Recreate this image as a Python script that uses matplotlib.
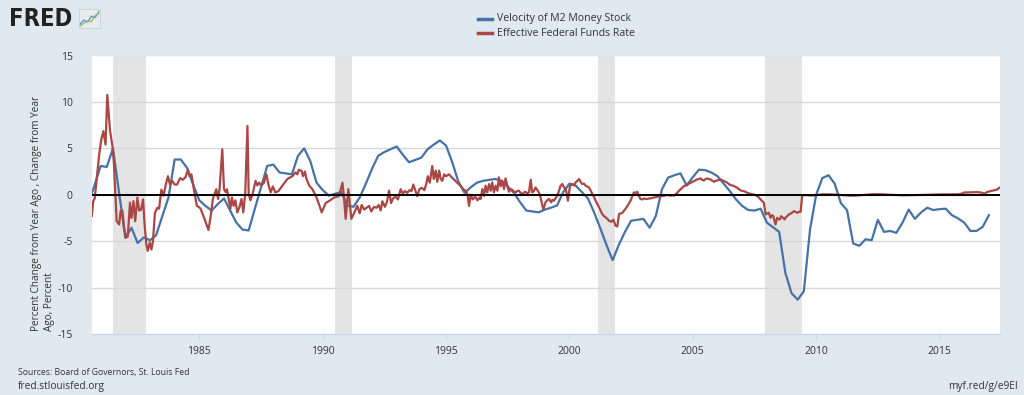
import numpy as np
import matplotlib
matplotlib.use("Agg")
import matplotlib.pyplot as plt
from matplotlib.lines import Line2D

# ---------------- data ----------------
recession_starts = [1981.50, 1990.50, 2001.17, 2007.92]
recession_ends = [1982.83, 1991.17, 2001.83, 2009.42]

# Velocity of M2 Money Stock, percent change from year ago (quarterly, 1980Q3 - 2017Q1)
velocity_values = [
    -1.0, 1.0,
    3.1, 3.0, 5.0, 0.2,
    -4.65, -3.55, -5.2, -4.6,
    -4.9, -4.35, -2.3, -0.3,
    3.8, 3.8, 2.9, 1.1,
    -0.6, -1.2, -1.7, -1.0,
    -0.4, -1.7, -3.0, -3.75,
    -3.85, -1.5, 0.8, 3.1,
    3.25, 2.4, 2.3, 2.2,
    4.2, 5.0, 3.6, 1.3,
    0.5, -0.1, 0.1, 0.3,
    -1.15, -1.3, -0.3, 1.2,
    2.8, 4.2, 4.6, 4.9,
    5.2, 4.3, 3.5, 3.75,
    4.0, 4.9, 5.4, 5.85,
    5.3, 3.5, 1.4, 0.2,
    0.8, 1.3, 1.5, 1.6,
    1.7, 1.5, 0.9, 0.2,
    -0.8, -1.7, -1.8, -1.9,
    -1.6, -1.4, -1.15, 0.3,
    1.2, 1.0, 0.3, -0.4,
    -1.9, -3.6, -5.4, -7.05,
    -5.4, -4.0, -2.8, -2.7,
    -2.6, -3.55, -2.3, 0.6,
    1.85, 2.1, 2.3, 1.0,
    1.9, 2.7, 2.65, 2.4,
    2.0, 1.2, 0.4, -0.5,
    -1.2, -1.65, -1.7, -1.5,
    -3.0, -3.5, -4.0, -8.4,
    -10.6, -11.3, -10.4, -3.75,
    0.0, 1.8, 2.1, 1.2,
    -0.9, -1.65, -5.25, -5.5,
    -4.8, -4.9, -2.7, -4.0,
    -3.9, -4.1, -3.0, -1.6,
    -2.6, -1.9, -1.4, -1.65,
    -1.55, -1.5, -2.2, -2.55,
    -3.0, -3.9, -3.9, -3.45,
    -2.2,
]
velocity_years = np.arange(len(velocity_values)) * 0.25 + 1980.5

# Effective Federal Funds Rate, change from year ago, percent (readings)
fedfunds_years = [
    1980.64, 1980.70, 1980.76, 1980.85, 1980.94, 1981.03, 1981.11, 1981.20, 1981.27, 1981.38,
    1981.48, 1981.54, 1981.65, 1981.75, 1981.81, 1981.88, 1981.95, 1982.03, 1982.10, 1982.19,
    1982.25, 1982.33, 1982.40, 1982.49, 1982.56, 1982.64, 1982.72, 1982.78, 1982.85, 1982.91,
    1982.99, 1983.06, 1983.12, 1983.20, 1983.30, 1983.37, 1983.46, 1983.55, 1983.64, 1983.73,
    1983.81, 1983.90, 1984.00, 1984.10, 1984.22, 1984.33, 1984.44, 1984.54, 1984.60, 1984.68,
    1984.79, 1984.90, 1984.97, 1985.05, 1985.19, 1985.37, 1985.46, 1985.55, 1985.62, 1985.69,
    1985.76, 1985.82, 1985.93, 1986.00, 1986.06, 1986.12, 1986.19, 1986.26, 1986.32, 1986.39,
    1986.46, 1986.54, 1986.63, 1986.71, 1986.78, 1986.86, 1986.95, 1987.00, 1987.07, 1987.16,
    1987.28, 1987.35, 1987.42, 1987.51, 1987.62, 1987.72, 1987.80, 1987.89, 1987.98, 1988.08,
    1988.21, 1988.37, 1988.57, 1988.77, 1988.90, 1988.97, 1989.04, 1989.15, 1989.20, 1989.28,
    1989.33, 1989.45, 1989.58, 1989.72, 1989.82, 1989.96, 1990.12, 1990.30, 1990.46, 1990.66,
    1990.80, 1990.86, 1990.93, 1991.04, 1991.16, 1991.27, 1991.40, 1991.50, 1991.58, 1991.68,
    1991.78, 1991.88, 1991.97, 1992.08, 1992.18, 1992.27, 1992.35, 1992.42, 1992.52, 1992.60,
    1992.69, 1992.77, 1992.85, 1992.95, 1993.05, 1993.16, 1993.25, 1993.33, 1993.42, 1993.52,
    1993.60, 1993.67, 1993.75, 1993.83, 1993.92, 1994.02, 1994.12, 1994.20, 1994.26, 1994.34,
    1994.44, 1994.50, 1994.58, 1994.64, 1994.72, 1994.78, 1994.85, 1994.92, 1995.00, 1995.12,
    1995.22, 1995.32, 1995.45, 1995.59, 1995.70, 1995.80, 1995.87, 1995.93, 1996.00, 1996.08,
    1996.18, 1996.27, 1996.36, 1996.40, 1996.47, 1996.54, 1996.60, 1996.67, 1996.74, 1996.81,
    1996.87, 1996.94, 1997.01, 1997.08, 1997.14, 1997.21, 1997.28, 1997.35, 1997.41, 1997.48,
    1997.55, 1997.62, 1997.68, 1997.75, 1997.82, 1997.88, 1997.95, 1998.02, 1998.09, 1998.16,
    1998.22, 1998.29, 1998.36, 1998.43, 1998.49, 1998.56, 1998.63, 1998.70, 1998.76, 1998.82,
    1998.86, 1998.94, 1999.03, 1999.10, 1999.17, 1999.26, 1999.31, 1999.37, 1999.44, 1999.51,
    1999.58, 1999.64, 1999.71, 1999.78, 1999.85, 1999.94, 2000.02, 2000.12, 2000.19, 2000.25,
    2000.32, 2000.39, 2000.45, 2000.52, 2000.59, 2000.66, 2000.72, 2000.79, 2000.86, 2000.93,
    2001.00, 2001.06, 2001.13, 2001.20, 2001.27, 2001.33, 2001.40, 2001.47, 2001.54, 2001.60,
    2001.70, 2001.78, 2001.87, 2001.94, 2002.01, 2002.08, 2002.14, 2002.21, 2002.28, 2002.34,
    2002.41, 2002.48, 2002.54, 2002.61, 2002.68, 2002.75, 2002.81, 2002.88, 2002.95, 2003.02,
    2003.09, 2003.16, 2003.22, 2003.29, 2003.36, 2003.43, 2003.50, 2003.56, 2003.63, 2003.70,
    2003.76, 2003.83, 2003.90, 2003.97, 2004.03, 2004.10, 2004.17, 2004.24, 2004.30, 2004.37,
    2004.43, 2004.50, 2004.57, 2004.64, 2004.70, 2004.77, 2004.84, 2004.91, 2004.97, 2005.04,
    2005.11, 2005.18, 2005.25, 2005.32, 2005.38, 2005.45, 2005.52, 2005.59, 2005.65, 2005.72,
    2005.79, 2005.86, 2005.92, 2005.99, 2006.06, 2006.13, 2006.19, 2006.26, 2006.33, 2006.40,
    2006.46, 2006.53, 2006.60, 2006.67, 2006.73, 2006.80, 2006.87, 2006.94, 2007.00, 2007.07,
    2007.14, 2007.21, 2007.27, 2007.34, 2007.41, 2007.48, 2007.55, 2007.61, 2007.68, 2007.75,
    2007.82, 2007.88, 2007.95, 2008.02, 2008.08, 2008.15, 2008.21, 2008.26, 2008.35, 2008.42,
    2008.47, 2008.53, 2008.58, 2008.62, 2008.67, 2008.72, 2008.78, 2008.83, 2008.90, 2008.96,
    2009.03, 2009.10, 2009.17, 2009.23, 2009.30, 2009.37, 2009.43, 2009.50, 2009.64, 2009.75,
    2010.00, 2010.25, 2010.50, 2010.75, 2011.00, 2011.25, 2011.50, 2011.75, 2012.00, 2012.25,
    2012.50, 2012.75, 2013.00, 2013.25, 2013.50, 2013.75, 2014.00, 2014.25, 2014.50, 2014.75,
    2015.00, 2015.25, 2015.50, 2015.75, 2015.92, 2016.00, 2016.17, 2016.33, 2016.50, 2016.67,
    2016.83, 2016.92, 2017.00, 2017.17, 2017.25, 2017.33, 2017.42, 2017.47,
]
fedfunds_values = [
    -2.3, -0.7, -0.4, 2.0, 4.3, 6.0, 6.85, 5.4, 10.75, 6.9,
    5.2, 3.3, -2.85, -3.2, -1.75, -1.7, -3.55, -4.6, -4.5, -0.85,
    -2.5, -0.7, -2.85, -0.3, -1.7, -1.6, -0.5, -3.15, -5.3, -6.05,
    -5.15, -5.9, -5.0, -1.95, -1.4, -1.5, 0.55, -0.1, 1.1, 2.0,
    1.1, 1.5, 1.1, 1.1, 1.8, 1.6, 1.9, 2.7, 2.0, 2.2,
    0.4, -1.2, -1.3, -1.5, -2.45, -3.8, -2.3, -0.45, 0.1, 0.6,
    -0.45, 0.6, 4.9, 0.6, 0.3, 0.6, -0.45, -1.5, -0.3, -1.2,
    -0.6, -1.9, -1.3, -0.45, -1.9, 0.1, 7.4, 0.1, -0.6, 0.1,
    1.5, 1.0, 1.3, 1.0, 1.3, 2.2, 1.1, 0.25, 0.9, 0.25,
    0.4, 1.0, 1.7, 2.0, 2.4, 2.2, 2.7, 2.55, 2.0, 2.5,
    1.8, 1.0, 0.6, -0.1, -0.8, -1.9, -0.9, -0.6, -0.3, -0.15,
    1.3, -0.2, -2.6, 0.6, -2.6, -2.0, -1.2, -2.0, -1.1, -1.6,
    -1.4, -1.2, -1.8, -1.3, -1.4, -1.1, -1.7, -0.7, -1.3, -0.8,
    0.45, -0.9, -0.4, -0.2, -0.5, 0.6, 0.1, 0.4, 0.2, 0.5,
    0.4, 1.1, 0.5, -0.15, 0.6, 0.75, 0.5, 1.2, 2.0, 1.3,
    3.1, 1.7, 2.6, 1.4, 2.6, 1.7, 1.5, 2.2, 2.0, 2.2,
    1.9, 1.65, 1.3, 0.95, 0.6, 0.4, 0.0, -1.2, 0.0, -0.5,
    -0.2, -0.6, -0.3, -0.46, 0.61, -0.11, 0.97, 0.25, 1.15, 0.43,
    1.33, 0.25, 0.97, 0.43, 1.87, 0.90, 1.51, 0.61, 1.76, 0.97,
    0.32, 0.60, 0.54, 0.35, 0.25, 0.40, 0.43, 0.20, 0.08, 0.25,
    0.32, 0.15, 0.25, 1.62, 0.25, 0.40, 0.79, 0.50, 0.25, -0.2,
    -0.64, -1.61, -0.82, -0.60, -0.46, -0.82, -0.55, -0.64, -0.35, -0.11,
    0.45, 0.97, 1.15, 0.80, 0.61, -0.64, 0.90, 1.15, 1.00, 1.33,
    1.50, 1.69, 1.40, 1.15, 1.20, 0.97, 0.90, 0.79, 0.45, 0.08,
    -0.25, -0.64, -1.0, -1.36, -1.75, -2.08, -2.3, -2.44, -2.6, -2.80,
    -2.91, -2.69, -3.34, -3.41, -2.08, -2.0, -1.97, -1.72, -1.5, -1.25,
    -0.95, -0.64, -0.2, 0.25, 0.2, 0.32, -0.1, -0.46, -0.5, -0.39,
    -0.45, -0.46, -0.40, -0.39, -0.35, -0.29, -0.25, -0.21, -0.18, -0.11,
    -0.15, -0.11, -0.05, -0.03, -0.05, -0.11, -0.05, -0.1, 0.05, 0.21,
    0.4, 0.57, 0.75, 0.93, 1.0, 1.04, 1.2, 1.29, 1.35, 1.47,
    1.55, 1.65, 1.7, 1.76, 1.6, 1.54, 1.7, 1.76, 1.7, 1.65,
    1.5, 1.40, 1.5, 1.54, 1.6, 1.65, 1.55, 1.47, 1.4, 1.29,
    1.15, 1.04, 1.0, 0.93, 0.85, 0.75, 0.6, 0.46, 0.42, 0.39,
    0.3, 0.21, 0.15, 0.10, 0.05, 0.03, -0.05, -0.15, -0.3, -0.51,
    -0.7, -0.87, -2.12, -2.0, -1.94, -2.48, -2.2, -2.30, -3.20, -2.48,
    -2.6, -2.66, -2.3, -2.41, -2.5, -2.66, -2.4, -2.30, -2.1, -2.05,
    -1.9, -1.76, -1.85, -1.94, -1.85, -1.83, -0.15, -0.04, -0.04, -0.08,
    -0.05, 0.05, 0.05, 0.02, -0.03, -0.08, -0.1, -0.06, 0.0, 0.05,
    0.06, 0.03, 0.0, -0.04, -0.06, -0.05, -0.04, -0.02, 0.0, 0.01,
    0.03, 0.04, 0.04, 0.05, 0.13, 0.25, 0.25, 0.27, 0.28, 0.25,
    0.12, 0.28, 0.35, 0.45, 0.5, 0.55, 0.75, 0.8,
]

x_ticks = [1985, 1990, 1995, 2000, 2005, 2010, 2015]
y_ticks = [-15, -10, -5, 0, 5, 10, 15]

series_names = ["Velocity of M2 Money Stock", "Effective Federal Funds Rate"]
y_label = "Percent Change from Year Ago , Change from Year\nAgo, Percent"

# ---------------- style ----------------
BG = "#e1e9f0"
BLUE = "#4572a7"
RED = "#aa4643"
TXT = "#333333"
FONT = ["Open Sans", "DejaVu Sans"]

plt.rcParams["font.family"] = FONT

fig = plt.figure(figsize=(10.24, 3.95), dpi=100, facecolor=BG)
ax = fig.add_axes([92 / 1024, 1 - 334 / 395, 908 / 1024, 278.5 / 395])
ax.set_facecolor("white")

for s, e in zip(recession_starts, recession_ends):
    ax.axvspan(s, e, color="#e4e4e4", lw=0, zorder=0.5)

for yv in y_ticks[1:]:
    ax.axhline(yv, color="#d8d8d8", lw=1.0, zorder=1)

ax.plot(velocity_years, velocity_values, color=BLUE, lw=1.6, zorder=3,
        solid_joinstyle="round")
ax.plot(fedfunds_years, fedfunds_values, color=RED, lw=1.6, zorder=3,
        solid_joinstyle="round")
ax.axhline(0, color="black", lw=1.4, zorder=5)

ax.set_xlim(1980.65, 2017.45)
ax.set_ylim(-15, 15)
ax.set_xticks(x_ticks)
ax.set_xticklabels([str(t) for t in x_ticks])
ax.set_yticks(y_ticks)
ax.set_yticklabels([str(t) for t in y_ticks])

for sp in ["top", "right", "left"]:
    ax.spines[sp].set_visible(False)
ax.spines["bottom"].set_color("#ccd6eb")
ax.spines["bottom"].set_linewidth(1.0)
ax.tick_params(axis="y", length=0, pad=14, labelsize=7.5, labelcolor=TXT)
ax.tick_params(axis="x", length=4, width=0.8, color="#ccd6eb", pad=5,
               labelsize=7.5, labelcolor=TXT)

# y label
fig.text(43 / 1024, 1 - 331 / 395, y_label, rotation=90, ha="center",
         va="bottom", multialignment="left", fontsize=7.2, color=TXT)

# legend
for i, (name, col) in enumerate(zip(series_names, [BLUE, RED])):
    yy = 1 - (19 + 14 * i) / 395
    fig.add_artist(Line2D([478 / 1024, 492 / 1024], [yy, yy], color=col,
                          lw=2.5, transform=fig.transFigure))
    fig.text(497 / 1024, yy, name, va="center", ha="left", fontsize=7.6,
             color=TXT)

# FRED logo
fig.text(9 / 1024, 1 - 19 / 395, "FRED", fontsize=17, fontweight="bold",
         color="#222222", va="center", ha="left",
         family=["DejaVu Sans"], stretch="condensed")
icon = fig.add_axes([79 / 1024, 1 - 28 / 395, 21 / 1024, 19 / 395])
icon.set_facecolor("#e8ecef")
icon.plot([0, 1, 2, 3, 4, 5], [1, 2, 1.5, 3, 2.6, 4.2], color="#5b8fc9", lw=0.9)
icon.plot([0, 1, 2, 3, 4, 5], [0.5, 1.2, 1.8, 1.6, 3.2, 3.6], color="#8cbf5a", lw=0.9)
icon.set_xlim(-0.3, 5.3)
icon.set_ylim(0, 4.8)
icon.set_xticks([])
icon.set_yticks([])
for sp in icon.spines.values():
    sp.set_color("#c8d0d8")
    sp.set_linewidth(0.6)

# footer
fig.text(18 / 1024, 1 - 372 / 395, "Sources: Board of Governors, St. Louis Fed",
         fontsize=6.2, color=TXT, va="center", ha="left")
fig.text(18 / 1024, 1 - 387 / 395, "fred.stlouisfed.org", fontsize=7.3,
         color=TXT, va="center", ha="left")
fig.text(1018 / 1024, 1 - 387 / 395, "myf.red/g/e9EI", fontsize=7.3,
         color=TXT, va="center", ha="right")

fig.savefig("out.png", dpi=100, facecolor=BG)
